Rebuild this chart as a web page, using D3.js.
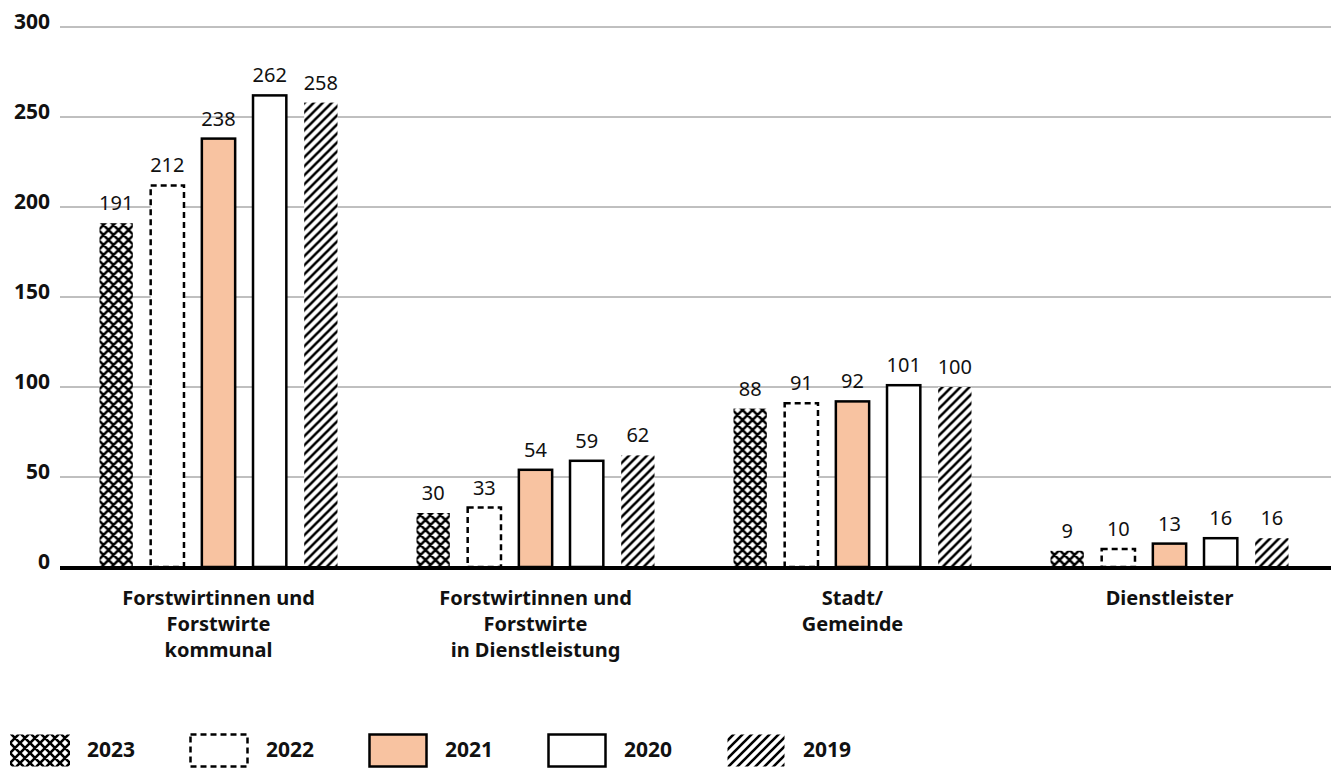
<!DOCTYPE html>
<html>
<head>
<meta charset="utf-8">
<script src="https://cdn.jsdelivr.net/npm/d3@7"></script>
<style>
  body { margin: 0; background: #fff; }
  svg { display: block; font-family: "Noto Sans", "Open Sans", sans-serif; }
</style>
</head>
<body>
<div id="chart"></div>
<script>
// categories (each label split in lines)
const categories = [
    ["Forstwirtinnen und", "Forstwirte", "kommunal"],
    ["Forstwirtinnen und", "Forstwirte", "in Dienstleistung"],
    ["Stadt/", "Gemeinde"],
    ["Dienstleister"]
];
const years = ["2023", "2022", "2021", "2020", "2019"];
const values2023 = [191, 30, 88, 9];
const values2022 = [212, 33, 91, 10];
const values2021 = [238, 54, 92, 13];
const values2020 = [262, 59, 101, 16];
const values2019 = [258, 62, 100, 16];
const yTicks = [0, 50, 100, 150, 200, 250, 300];

const series = [values2023, values2022, values2021, values2020, values2019];

const width = 1331, height = 775;
const margin = {top: 27, right: 0, bottom: 208, left: 60};

let svg = d3.select("#chart").append("svg")
    .attr("width", width).attr("height", height);

//Patterns
let defs = svg.append("defs");
let cross = defs.append("pattern").attr("id", "cross")
    .attr("patternUnits", "userSpaceOnUse").attr("width", 10).attr("height", 10);
cross.append("rect").attr("width", 10).attr("height", 10).attr("fill", "#fff");
cross.append("path").attr("d", "M-2,2 L2,-2 M0,10 L10,0 M8,12 L12,8 M-2,8 L2,12 M0,0 L10,10 M8,-2 L12,2")
    .attr("stroke", "#000").attr("stroke-width", 2.6);

let hatch = defs.append("pattern").attr("id", "hatch")
    .attr("patternUnits", "userSpaceOnUse").attr("width", 9).attr("height", 9);
hatch.append("rect").attr("width", 9).attr("height", 9).attr("fill", "#fff");
hatch.append("path").attr("d", "M-2,2 L2,-2 M0,9 L9,0 M7,11 L11,7")
    .attr("stroke", "#000").attr("stroke-width", 2.6);

const styles = [
    {fill: "url(#cross)", stroke: "none", dash: null},
    {fill: "#fff", stroke: "#000", dash: "6,4"},
    {fill: "#f8c3a1", stroke: "#000", dash: null},
    {fill: "#fff", stroke: "#000", dash: null},
    {fill: "url(#hatch)", stroke: "none", dash: null}
];

//Scales
let x0 = d3.scaleBand().domain(d3.range(categories.length))
    .range([margin.left, width - 3]);
let x1 = d3.scaleBand().domain(years)
    .range([-120, 120]).paddingInner(0.31).paddingOuter(0);
let y = d3.scaleLinear().domain([0, 300]).range([height - margin.bottom, margin.top]);

//Grid
svg.append("g").selectAll("line").data(yTicks.filter(d => d > 0)).enter().append("line")
    .attr("x1", margin.left).attr("x2", width)
    .attr("y1", d => y(d)).attr("y2", d => y(d))
    .attr("stroke", "#808080").attr("stroke-width", 1);

//Y axis labels
let yAxis = d3.axisLeft(y).tickValues(yTicks).tickSize(0).tickPadding(10);
let yg = svg.append("g").attr("transform", "translate(" + margin.left + ",0)").call(yAxis);
yg.select(".domain").remove();
yg.selectAll("text").attr("font-size", 21).attr("font-weight", "bold")
    .attr("fill", "#111").attr("font-family", "\"Noto Sans\", sans-serif")
    .attr("dy", "0.05em");

//Bars
let groups = svg.append("g").selectAll("g").data(categories).enter().append("g")
    .attr("transform", (d, i) => "translate(" + (x0(i) + x0.bandwidth() / 2) + ",0)");

years.forEach((yr, s) => {
    let st = styles[s];
    groups.append("rect")
        .attr("x", x1(yr) + 1)
        .attr("width", x1.bandwidth() - 2)
        .attr("y", (d, i) => y(series[s][i]))
        .attr("height", (d, i) => y(0) - y(series[s][i]))
        .attr("fill", st.fill)
        .attr("stroke", st.stroke)
        .attr("stroke-width", 2.5)
        .attr("stroke-dasharray", st.dash);
    groups.append("text")
        .attr("x", x1(yr) + x1.bandwidth() / 2)
        .attr("y", (d, i) => y(series[s][i]) - 13)
        .attr("text-anchor", "middle")
        .attr("font-size", 20)
        .attr("fill", "#111")
        .text((d, i) => series[s][i]);
});

//Baseline
svg.append("line").attr("x1", margin.left).attr("x2", width)
    .attr("y1", y(0) + 1).attr("y2", y(0) + 1)
    .attr("stroke", "#000").attr("stroke-width", 4);

//Category labels
groups.each(function(lines) {
    let t = d3.select(this).append("text")
        .attr("text-anchor", "middle")
        .attr("font-size", 20).attr("font-weight", "bold").attr("fill", "#111");
    lines.forEach((l, k) => {
        t.append("tspan").attr("x", 0).attr("y", y(0) + 38 + k * 26).text(l);
    });
});

//Legend
let legend = svg.append("g").selectAll("g").data(years).enter().append("g")
    .attr("transform", (d, i) => "translate(" + (10 + i * 179) + ",733)");
legend.append("rect")
    .attr("x", (d, i) => i === 0 ? 0 : 1.5).attr("y", 1.5)
    .attr("width", (d, i) => i === 0 ? 60 : 57).attr("height", 32)
    .attr("fill", (d, i) => styles[i].fill)
    .attr("stroke", (d, i) => styles[i].stroke)
    .attr("stroke-width", 2.5)
    .attr("stroke-dasharray", (d, i) => styles[i].dash);
legend.append("text")
    .attr("x", 77).attr("y", 17).attr("dy", "0.35em")
    .attr("font-size", 21).attr("font-weight", "bold").attr("fill", "#111")
    .text(d => d);
</script>
</body>
</html>
